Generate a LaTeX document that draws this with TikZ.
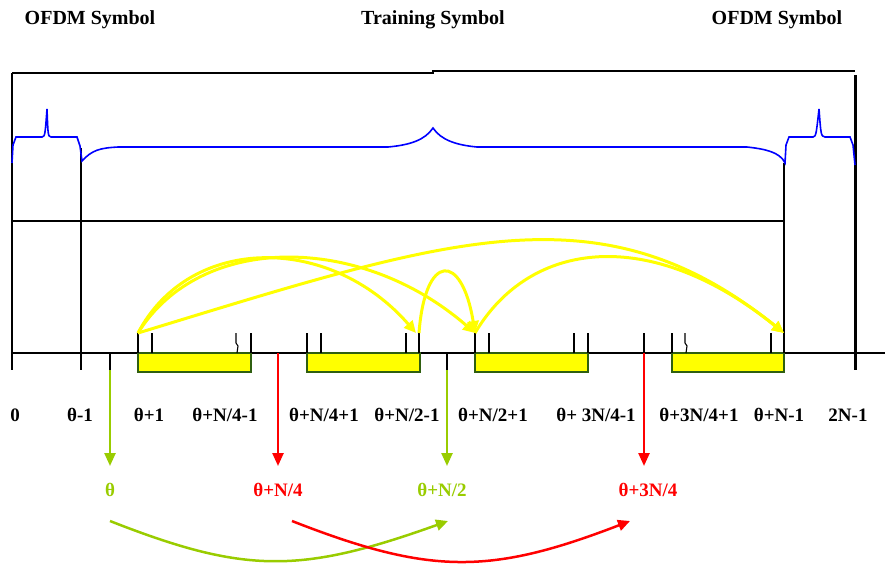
\documentclass[tikz,border=0pt]{standalone}
\usepackage{fontspec}
\setmainfont{Liberation Serif}
\usetikzlibrary{arrows.meta}
\definecolor{lime}{HTML}{99CC00}
\definecolor{boxedge}{HTML}{2F5F10}
\definecolor{ylw}{HTML}{FFFF00}
\tikzset{
  title/.style={font=\bfseries\fontsize{20}{22}\selectfont, inner sep=0pt},
  idx/.style={font=\bfseries\fontsize{19}{21}\selectfont, inner sep=0pt},
  frame/.style={draw=black, line width=1.6pt},
  tick/.style={draw=black, line width=1.1pt},
  seg/.style={fill=ylw, draw=boxedge, line width=1.1pt},
  copyarrow/.style={draw=ylw, line width=3pt, -{Triangle[length=12pt,width=11pt]}},
  drop/.style={line width=2.4pt, -{Triangle[length=13pt,width=11pt]}},
  swap/.style={line width=2.5pt, -{Triangle[length=12pt,width=11pt]}},
}
\begin{document}
\begin{tikzpicture}[x=1pt,y=-1pt]
\useasboundingbox (0,0) rectangle (885,563);

% titles
\node[title] (t1) at (90,20) {OFDM Symbol};
\node[title] (t2) at (433,20) {Training Symbol};
\node[title] (t3) at (777,20) {OFDM Symbol};

% frame lines
\draw[frame] (12,73) -- (433,73) -- (433,71) -- (855,71);
\draw[line width=1.8pt] (12,73) -- (12,370);
\draw[line width=2.8pt] (81,148) -- (81,370);
\draw[line width=3pt] (855,75) -- (855,370);
\draw[line width=1.6pt] (784,163) -- (784,353);
\draw[frame] (12,221) -- (784,221);

% time axis
\draw[line width=1.6pt] (12,353) -- (450,353);
\draw[line width=2.8pt] (450,353) -- (885,353);

% brace-like profile
\draw[blue, line width=1.6pt]
  (12,163) -- (13,145) -- (16,137) -- (42,137)
  .. controls (45,136) .. (47,109) .. controls (48,136) .. (51,137)
  -- (77,137) -- (80,146) -- (82,161)
  .. controls (92,150) and (100,148) .. (118,147) -- (388,147)
  .. controls (410,145) and (425,140) .. (433,128)
  .. controls (441,140) and (456,145) .. (477,147) -- (747,147)
  .. controls (765,149) and (780,152) .. (785,163)
  -- (786,145) -- (789,137) -- (813,137)
  .. controls (816,136) .. (819,109) .. controls (821,136) .. (825,137)
  -- (850,137) -- (853,145) -- (855,165);

% yellow segments
\draw[seg] (138,353) rectangle (251,372);
\draw[seg] (307,353) rectangle (420,372);
\draw[seg] (475,353) rectangle (588,372);
\draw[seg] (672,353) rectangle (784,372);

% sample points above the axis
\foreach \n/\x in {a/138,b/152,c/237,d/251,e/307,f/321,g/406,h/419,i/475,j/489,k/574,l/588,m/644,n/672,o/686,p/771,q/784}
  \coordinate (s\n) at (\x,333);
\foreach \n in {a,b,d,e,f,g,h,i,j,k,l,m,n,p,q}
  \draw[tick] (s\n) -- (s\n |- 0,353);
% two ticks with a small bend
\draw[tick] (sc) ++(-1,0) -- ++(0,10) -- ++(2,3) -- (sc |- 0,353);
\draw[tick] (so) ++(-1,0) -- ++(0,10) -- ++(2,3) -- (so |- 0,353);

% repetition arrows
\draw[copyarrow] (sa) .. controls (190,234) and (330,234) .. (416,333);
\draw[copyarrow] (sa) .. controls (200,233) and (360,233) .. (si);
\draw[copyarrow] (sa) .. controls (450,238) and (600,185) .. (sq);
\draw[copyarrow] (sh) .. controls (425,252) and (462,252) .. (si);
\draw[copyarrow] (si) .. controls (530,240) and (650,225) .. (sq);

% index labels
\node[idx] (l0)  at (15,415)  {0};
\node[idx] (l1)  at (80,415)  {θ-1};
\node[idx] (l2)  at (149,415) {θ+1};
\node[idx] (l3)  at (225,415) {θ+N/4-1};
\node[idx] (l4)  at (324,415) {θ+N/4+1};
\node[idx] (l5)  at (407,415) {θ+N/2-1};
\node[idx] (l6)  at (493,415) {θ+N/2+1};
\node[idx] (l7)  at (596,415) {θ+ 3N/4-1};
\node[idx] (l8)  at (699,415) {θ+3N/4+1};
\node[idx] (l9)  at (779,415) {θ+N-1};
\node[idx] (l10) at (848,415) {2N-1};

% estimated positions
\coordinate (g1) at (110,353);
\coordinate (r1) at (278,353);
\coordinate (g2) at (447,353);
\coordinate (r2) at (644,353);
\node[idx, text=lime] (e1) at (110,490) {θ};
\node[idx, text=red]  (e2) at (278,490) {θ+N/4};
\node[idx, text=lime] (e3) at (442,490) {θ+N/2};
\node[idx, text=red]  (e4) at (648,490) {θ+3N/4};

\draw[drop, lime] (g1) -- (110,466);
\draw[drop, red]  (r1) -- (278,466);
\draw[drop, lime] (g2) -- (447,466);
\draw[drop, red]  (r2) -- (644,466);
\draw[tick] (g1) -- (110,370);
\draw[tick] (g2) -- (447,370);
\draw[tick] (12,353) -- (12,370);

% exchange arrows
\coordinate (gs) at (110,521);
\coordinate (ge) at (448,521);
\coordinate (rs) at (292,521);
\coordinate (re) at (630,521);
\draw[swap, lime] (gs) .. controls (245,574) and (300,574) .. (ge);
\draw[swap, red]  (rs) .. controls (430,575) and (490,575) .. (re);
\end{tikzpicture}
\end{document}
